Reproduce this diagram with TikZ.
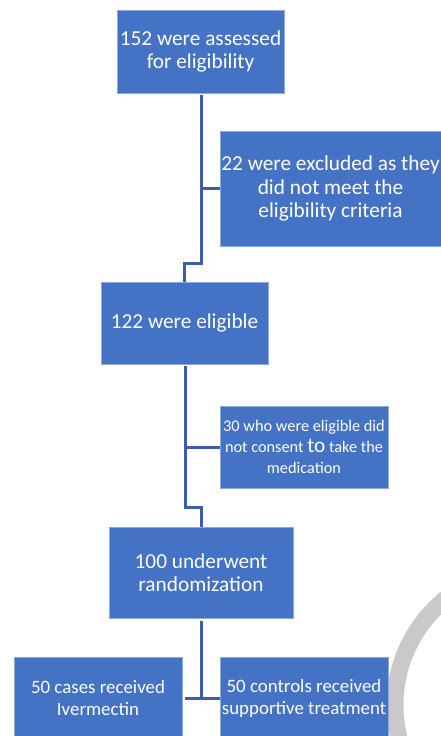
\documentclass[tikz,border=0pt]{standalone}
\usepackage{fontspec}
\setmainfont{Carlito}
\usetikzlibrary{calc}
\definecolor{boxfill}{HTML}{4472C4}
\definecolor{boxline}{HTML}{8EA9DB}
\definecolor{connblue}{HTML}{3A5FA8}
\definecolor{arcgray}{HTML}{C9C9C9}
\tikzset{
  box/.style={draw=boxline, line width=0.8pt, fill=boxfill, text=white, align=center, inner sep=0pt, font=\fontsize{21.3}{23.5}\selectfont},
  conn/.style={draw=connblue, line width=3pt}
}
\begin{document}
\begin{tikzpicture}[x=1pt,y=-1pt]
\useasboundingbox (0,0) rectangle (441,736);
\clip (0,0) rectangle (441,736);
% gray arc
\draw[arcgray, line width=17pt] (531.5,705) circle[radius=136.5];
\node[box, minimum width=167pt, minimum height=83pt] (b1) at (200.5,51.5) {152 were assessed\\for eligibility};
\node[box, minimum width=221pt, minimum height=115pt] (b2) at (330.5,188.5) {22 were excluded as they\\did not meet the\\eligibility criteria};
\node[box, minimum width=167pt, minimum height=82pt] (b3) at (184.5,323) {122 were eligible};
\node[box, minimum width=168pt, minimum height=82pt, font=\fontsize{16.3}{21}\selectfont] (b4) at (304,447) {30 who were eligible did\\not consent {\fontsize{21.3}{21}\selectfont to} take the\\medication};
\node[box, minimum width=184pt, minimum height=91pt] (b5) at (201,572.5) {100 underwent\\randomization};
\node[box, minimum width=168pt, minimum height=82pt, font=\fontsize{18.9}{22}\selectfont] (b6) at (98,698) {50 cases received\\Ivermectin};
\node[box, minimum width=168pt, minimum height=82pt, font=\fontsize{18.9}{22}\selectfont] (b7) at (304,698) {50 controls received\\supportive treatment};
\coordinate (j1) at (201,263);
\coordinate (j2) at (185,507);
\coordinate (j3a) at (185,698);
\coordinate (j3b) at (201,698);
\draw[conn, shorten <=2pt] (b1.south -| j1) -- (j1) -| (b3.north);
\draw[conn] (j1 |- b2.west) -- (b2.west);
\draw[conn, shorten <=2pt] (b3.south -| j2) -- (j2) -| (b5.north);
\draw[conn] (j2 |- b4.west) -- (b4.west);
\draw[conn, shorten <=3pt] (b5.south -| j3b) -- (j3b);
\draw[conn] (j3a) -- (b7.west);
\end{tikzpicture}
\end{document}
